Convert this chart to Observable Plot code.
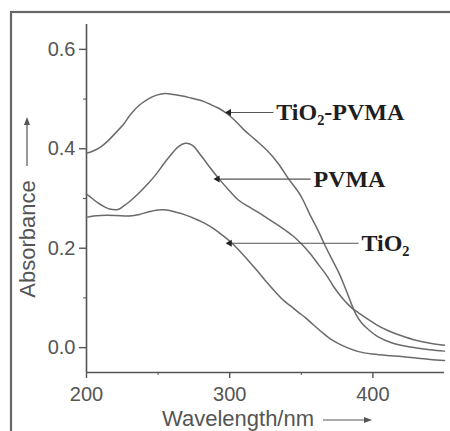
<!DOCTYPE html>
<html>
<head>
<meta charset="utf-8">
<script src="https://cdn.jsdelivr.net/npm/d3@7"></script>
<script src="https://cdn.jsdelivr.net/npm/@observablehq/plot@0.6"></script>
<style>
  html, body { margin: 0; padding: 0; background: #fff; }
  svg { display: block; }
</style>
</head>
<body>
<div id="chart"></div>
<script>
// Wavelength (nm) / absorbance pairs
const tio2Pvma = [
  [200,0.391],[205,0.396],[210,0.404],[215,0.416],[220,0.431],[226,0.450],[231,0.470],[237,0.488],
  [243,0.500],[249,0.508],[255,0.511],[261,0.509],[267,0.506],[273,0.502],[280,0.497],[286,0.490],
  [292,0.482],[298,0.471],[304,0.456],[310,0.438],[318,0.418],[326,0.397],[334,0.370],[341,0.340],
  [348,0.313],[351,0.298],[357,0.262],[362,0.234],[366,0.209],[371,0.180],[376,0.152],[380,0.125],
  [385,0.088],[388,0.068],[392,0.050],[397,0.036],[404,0.021],[413,0.010],[425,0.002],[440,-0.004],[450,-0.007]
];
const pvma = [
  [200,0.309],[204,0.300],[208,0.291],[212,0.284],[216,0.279],[222,0.278],[226,0.285],[231,0.296],
  [237,0.312],[243,0.330],[249,0.350],[254,0.370],[259,0.388],[264,0.404],[269,0.411],[274,0.407],
  [279,0.390],[285,0.367],[293,0.338],[300,0.315],[306,0.297],[313,0.284],[320,0.272],[328,0.257],
  [336,0.242],[344,0.225],[350,0.209],[356,0.190],[362,0.167],[368,0.144],[373,0.121],[378,0.102],
  [383,0.086],[386,0.078],[390,0.070],[395,0.060],[402,0.047],[410,0.035],[420,0.024],[430,0.015],
  [440,0.009],[450,0.005]
];
const tio2 = [
  [200,0.262],[205,0.265],[210,0.266],[220,0.266],[230,0.265],[237,0.268],[243,0.273],[250,0.277],
  [256,0.277],[262,0.273],[268,0.268],[275,0.260],[282,0.251],[289,0.239],[295,0.226],[302,0.209],
  [310,0.185],[317,0.162],[324,0.138],[331,0.115],[338,0.094],[343,0.083],[348,0.071],[353,0.060],
  [358,0.047],[364,0.032],[370,0.018],[376,0.008],[382,0.000],[390,-0.008],[400,-0.013],[410,-0.016],
  [420,-0.018],[430,-0.021],[440,-0.024],[450,-0.026]
];

// Curve labels: text start (x, y) and arrow tip x
const labelNames = ["TiO\u2082-PVMA", "PVMA", "TiO\u2082"];
const labelX = [332.5, 358.5, 392];
const labelY = [0.473, 0.339, 0.210];
const arrowTipX = [299.5, 291.5, 300];

const xTicks = [200, 300, 400];
const xMinorTicks = [250, 350];
const yTicks = [0.0, 0.2, 0.4, 0.6];
const yMinorTicks = [0.1, 0.3, 0.5];
const xDomain = [200, 450];
const yDomain = [-0.05, 0.65];
const xTitle = "Wavelength/nm";
const yTitle = "Absorbance";

const series = [
  ...tio2Pvma.map(([x, y]) => ({x, y, s: "TiO2-PVMA"})),
  ...pvma.map(([x, y]) => ({x, y, s: "PVMA"})),
  ...tio2.map(([x, y]) => ({x, y, s: "TiO2"}))
];
const labels = labelNames.map((name, i) => ({
  name, x: labelX[i], y: labelY[i], tip: arrowTipX[i], from: labelX[i] - 2
}));

const axisColor = "#555";
const sansFont = "Liberation Sans, Arial, sans-serif";

const plot = Plot.plot({
  width: 450,
  height: 431,
  marginLeft: 86,
  marginRight: 6,
  marginTop: 24,
  marginBottom: 59,
  style: {background: "#fff", fontFamily: sansFont},
  x: {domain: xDomain},
  y: {domain: yDomain},
  marks: [
    Plot.ruleX([xDomain[0]], {stroke: axisColor, strokeWidth: 1.6}),
    Plot.ruleY([yDomain[0]], {stroke: axisColor, strokeWidth: 1.6}),
    Plot.axisY({ticks: yTicks, tickFormat: d3.format(".1f"), tickSize: 7, tickPadding: 4,
      fontSize: 20, color: axisColor, stroke: axisColor, strokeWidth: 1.4, label: null}),
    Plot.axisY({ticks: yMinorTicks, tickSize: 3, text: null, stroke: axisColor, label: null}),
    Plot.axisX({ticks: xTicks, tickFormat: d3.format("d"), tickSize: 6, tickPadding: 8,
      fontSize: 20, color: axisColor, stroke: axisColor, strokeWidth: 1.4, label: null}),
    Plot.axisX({ticks: xMinorTicks, tickSize: 3, text: null, stroke: axisColor, label: null}),
    Plot.line(series, {x: "x", y: "y", z: "s", stroke: "#6a6a6a", strokeWidth: 1.5, curve: "catmull-rom"}),
    Plot.link(labels, {x1: "from", x2: "tip", y1: "y", y2: "y", stroke: "#555", strokeWidth: 1.2}),
    Plot.dot(labels, {x: "tip", y: "y", symbol: "triangle", rotate: -90, r: 2.6, fill: "#222", stroke: "none"}),
    Plot.text(labels, {x: "x", y: "y", text: "name", textAnchor: "start",
      fontFamily: "Liberation Serif, Times New Roman, serif", fontWeight: "bold", fontSize: 24, fill: "#1e1e1e"})
  ]
});

document.getElementById("chart").appendChild(plot);

// Decorations: outer frame, axis titles and their arrows
const svg = d3.select(plot);
svg.append("rect").attr("x", 11).attr("y", 12).attr("width", 450).attr("height", 430)
  .attr("fill", "none").attr("stroke", "#666").attr("stroke-width", 2.2);

svg.append("text").text(xTitle)
  .attr("x", 162).attr("y", 426).attr("text-anchor", "start")
  .attr("font-family", sansFont).attr("font-size", 22).attr("fill", axisColor);
svg.append("line").attr("x1", 323).attr("x2", 366).attr("y1", 420).attr("y2", 420)
  .attr("stroke", axisColor).attr("stroke-width", 1.2);
svg.append("path").attr("d", "M372,420 L364,417 L364,423 Z").attr("fill", axisColor);

svg.append("text").text(yTitle)
  .attr("transform", "translate(27,239) rotate(-90)")
  .attr("text-anchor", "middle").attr("dy", "0.36em")
  .attr("font-family", sansFont).attr("font-size", 22).attr("fill", axisColor);
svg.append("line").attr("x1", 27).attr("x2", 27).attr("y1", 166).attr("y2", 123)
  .attr("stroke", axisColor).attr("stroke-width", 1.2);
svg.append("path").attr("d", "M27,117 L24,125 L30,125 Z").attr("fill", axisColor);
</script>
</body>
</html>
